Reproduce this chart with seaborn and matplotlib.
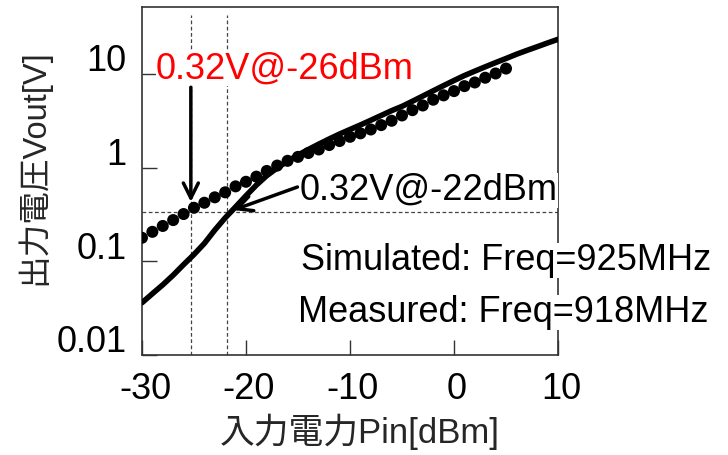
import numpy as np
import pandas as pd
import matplotlib
matplotlib.use('Agg')
import matplotlib.pyplot as plt
import matplotlib.transforms as mtransforms
from matplotlib.ticker import NullLocator
import seaborn as sns

# simulated output voltage, Freq=925MHz (1 dBm steps)
pin_sim = list(range(-30, 11))
vout_sim = [0.036, 0.045, 0.056, 0.071, 0.092, 0.118, 0.155, 0.215, 0.29, 0.38,
            0.50, 0.65, 0.82, 0.99, 1.17, 1.36, 1.56, 1.78, 2.02, 2.28,
            2.55, 2.85, 3.2, 3.6, 4.05, 4.5, 5.1, 5.8, 6.6, 7.5,
            8.5, 9.6, 10.7, 11.9, 13.2, 14.6, 16.2, 17.8, 19.5, 21.4, 23.4]

# measured output voltage, Freq=918MHz
pin_meas = list(range(-30, 6))
vout_meas = [0.178, 0.206, 0.238, 0.275, 0.319, 0.372, 0.421, 0.481, 0.544, 0.63,
             0.705, 0.80, 0.92, 1.05, 1.18, 1.30, 1.43, 1.56, 1.74, 1.92,
             2.13, 2.32, 2.55, 2.84, 3.16, 3.6, 4.1, 4.6, 5.3, 5.9,
             6.55, 7.4, 8.1, 9.1, 10.1, 11.4]

xticks = [-30, -20, -10, 0, 10]
xtick_labels = ['-30', '-20', '-10', '0', '10']
yticks = [0.01, 0.1, 1, 10]
ytick_labels = ['0.01', '0.1', '1', '10']

# marker lines / labels
v_marker = 0.337
pin_marker_meas = -25.3
pin_marker_sim = -21.8
label_meas = '0.32V@-26dBm'
label_sim = '0.32V@-22dBm'
legend_sim = 'Simulated: Freq=925MHz'
legend_meas = 'Measured: Freq=918MHz'

sim = pd.DataFrame({'Pin': pin_sim, 'Vout': vout_sim})
meas = pd.DataFrame({'Pin': pin_meas, 'Vout': vout_meas})

sns.set_theme(style="white")
plt.rcParams['font.family'] = ['Liberation Sans', 'Noto Sans CJK JP']
plt.rcParams['axes.unicode_minus'] = False

fig = plt.figure(figsize=(7.28, 4.55), dpi=100)
ax = fig.add_axes([0.195, 0.22, 0.5715, 0.765])

sns.lineplot(x='Pin', y='Vout', data=sim, color='black', linewidth=4, ax=ax, zorder=3)
sns.scatterplot(x='Pin', y='Vout', data=meas, color='black', s=75, edgecolor='none', ax=ax, zorder=4)

ax.set_yscale('log')
ax.set_xlim(-30, 10)
ax.set_ylim(0.01, 52)

# dashed guide lines
dash = dict(color='#444444', linewidth=0.9, linestyle=(0, (3, 2)), zorder=2)
ax.plot([-30, 10], [v_marker, v_marker], **dash)
ax.plot([pin_marker_meas, pin_marker_meas], [0.01, 43], **dash)
ax.plot([pin_marker_sim, pin_marker_sim], [0.01, 43], **dash)

white = dict(facecolor='white', edgecolor='none', pad=0)
fs = 26
ax.text(-28.65, 9.0, label_meas, color='red', fontsize=fs, va='baseline', ha='left',
        bbox=white, zorder=5)
ax.text(-14.8, 0.45, label_sim, color='black', fontsize=fs, va='baseline', ha='left',
        bbox=white, zorder=5, clip_on=False)
ax.text(-14.7, 0.0805, legend_sim, color='black', fontsize=fs, va='baseline', ha='left',
        bbox=white, zorder=5, clip_on=False)
ax.text(-14.95, 0.0226, legend_meas, color='black', fontsize=fs, va='baseline', ha='left',
        bbox=white, zorder=5, clip_on=False)

arrow = dict(arrowstyle='->,head_length=0.9,head_width=0.45', color='black', lw=2.5,
             shrinkA=0, shrinkB=0)
ax.annotate('', xy=(pin_marker_meas, 0.43), xytext=(pin_marker_meas, 7.2),
            arrowprops=arrow, zorder=6)
ax.annotate('', xy=(-21.2, 0.352), xytext=(-15.05, 0.62),
            arrowprops=arrow, zorder=6)

ax.set_xticks(xticks)
ax.set_xticklabels(xtick_labels)
ax.set_yticks(yticks)
ax.set_yticklabels(ytick_labels)
ax.yaxis.set_minor_locator(NullLocator())
ax.tick_params(axis='both', which='major', direction='in', length=11, width=1,
               color='#333333', labelsize=fs, labelcolor='black')
ax.tick_params(axis='x', pad=12, bottom=True, top=False)
ax.tick_params(axis='y', pad=11, left=True, right=False)

# excel places the y labels a little above the ticks
off = mtransforms.ScaledTranslation(0, 0.16, fig.dpi_scale_trans)
for lbl in ax.get_yticklabels():
    lbl.set_transform(lbl.get_transform() + off)
offx = mtransforms.ScaledTranslation(0.03, 0, fig.dpi_scale_trans)
for lbl in ax.get_xticklabels():
    lbl.set_transform(lbl.get_transform() + offx)

for sp in ax.spines.values():
    sp.set_color('#333333')
    sp.set_linewidth(1.2)
    sp.set_visible(True)

ax.set_xlabel('入力電力Pin[dBm]', fontsize=25)
ax.set_ylabel('出力電圧Vout[V]', fontsize=23.5)
ax.xaxis.set_label_coords(0.524, -0.168)
ax.yaxis.set_label_coords(-0.221, 0.54)
ax.grid(False)

plt.savefig('out.png', dpi=100)
